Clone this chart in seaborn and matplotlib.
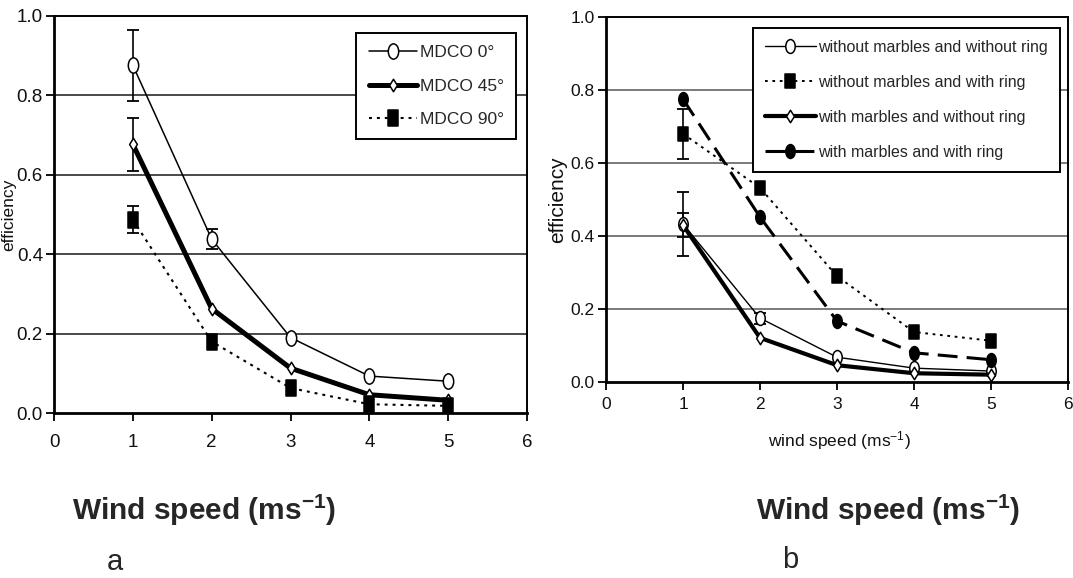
import numpy as np
import matplotlib
matplotlib.use("Agg")
import matplotlib.pyplot as plt
import seaborn as sns
from matplotlib.path import Path
from matplotlib.transforms import Affine2D
from matplotlib import font_manager as fm

# ---------------- data ----------------
wind = [1, 2, 3, 4, 5]

# panel a
a_labels = ["MDCO 0°", "MDCO 45°", "MDCO 90°"]
a_mdco0 = [0.876, 0.438, 0.190, 0.093, 0.080]
a_mdco45 = [0.677, 0.263, 0.113, 0.046, 0.032]
a_mdco90 = [0.487, 0.180, 0.063, 0.022, 0.018]
a_err0 = [0.089, 0.025, 0.0, 0.0, 0.0]
a_err45 = [0.067, 0.0, 0.0, 0.0, 0.0]
a_err90 = [0.034, 0.0, 0.0, 0.0, 0.0]

# panel b
b_labels = ["without marbles and without ring", "without marbles and with ring",
            "with marbles and without ring", "with marbles and with ring"]
b_wowo = [0.433, 0.175, 0.068, 0.038, 0.030]
b_wowr = [0.680, 0.532, 0.290, 0.137, 0.113]
b_wmwo = [0.430, 0.121, 0.046, 0.024, 0.020]
b_wmwr = [0.775, 0.452, 0.167, 0.080, 0.061]
b_err_wowo = [0.088, 0.015, 0.0, 0.0, 0.0]
b_err_wowr = [0.068, 0.0, 0.0, 0.0, 0.0]
b_err_wmwo = [0.034, 0.0, 0.0, 0.0, 0.0]
b_err_wmwr = [0.0, 0.0, 0.0, 0.0, 0.0]

x_ticks = [0, 1, 2, 3, 4, 5, 6]
y_ticks = [0.0, 0.2, 0.4, 0.6, 0.8, 1.0]

# ---------------- style ----------------
sns.set_style("white")
names = {f.name for f in fm.fontManager.ttflist}
NARROW = "Liberation Sans Narrow" if "Liberation Sans Narrow" in names else "Liberation Sans"
plt.rcParams["font.family"] = [NARROW, "DejaVu Sans"]
plt.rcParams["mathtext.fontset"] = "custom"
plt.rcParams["mathtext.rm"] = NARROW
plt.rcParams["mathtext.bf"] = "Liberation Sans:bold"
plt.rcParams["mathtext.it"] = NARROW

# stretched marker shapes (the source image is vertically stretched)
ellipse = Path.unit_circle().transformed(Affine2D().scale(0.68, 1.0))
rect = Path.unit_rectangle().transformed(Affine2D().translate(-0.5, -0.5).scale(0.68, 1.0))
diam = Path([(0, 1), (0.62, 0), (0, -1), (-0.62, 0), (0, 1)],
            [Path.MOVETO, Path.LINETO, Path.LINETO, Path.LINETO, Path.CLOSEPOLY])

W, H = 1073, 578
fig = plt.figure(figsize=(W / 100, H / 100), dpi=100)
axA = fig.add_axes([54 / W, 1 - 413 / H, 473 / W, 397 / H])
axB = fig.add_axes([606 / W, 1 - 382 / H, 462 / W, 365 / H])


def draw(ax, y, err, label, lw, ls, marker, ms, face):
    sns.lineplot(x=wind, y=y, ax=ax, color="black", lw=lw, linestyle=ls,
                 marker=marker, markersize=ms, markerfacecolor=face,
                 markeredgecolor="black", markeredgewidth=1.1, label=label,
                 zorder=4)
    e = np.array(err)
    m = e > 0
    if m.any():
        ax.errorbar(np.array(wind)[m], np.array(y)[m], yerr=e[m], fmt="none",
                    ecolor="black", elinewidth=1.2, capsize=4, capthick=1.3,
                    zorder=3)


dotted = (0, (1.4, 2.4))
dashed = (0, (6.5, 3.0))

# panel a
draw(axA, a_mdco0, a_err0, a_labels[0], 1.1, "-", ellipse, 11, "white")
draw(axA, a_mdco45, a_err45, a_labels[1], 3.6, "-", diam, 9, "white")
draw(axA, a_mdco90, a_err90, a_labels[2], 1.5, dotted, rect, 11, "black")

# panel b
draw(axB, b_wowo, b_err_wowo, b_labels[0], 1.0, "-", ellipse, 10, "white")
draw(axB, b_wowr, b_err_wowr, b_labels[1], 1.4, dotted, rect, 10, "black")
draw(axB, b_wmwo, b_err_wmwo, b_labels[2], 3.0, "-", diam, 9, "white")
draw(axB, b_wmwr, b_err_wmwr, b_labels[3], 2.2, dashed, ellipse, 10, "black")

for ax, tsize, grid_c, xpad in ((axA, 13.5, "#3a3a3a", 9), (axB, 12.5, "#707070", 5)):
    ax.set_xlim(0, 6)
    ax.set_ylim(0, 1)
    ax.set_xticks(x_ticks)
    ax.set_xticklabels([str(t) for t in x_ticks])
    ax.set_yticks(y_ticks)
    ax.set_yticklabels([f"{t:.1f}" for t in y_ticks])
    ax.tick_params(axis="both", direction="out", length=6, width=1.3,
                   color="black", labelsize=tsize, labelcolor="#111111")
    ax.tick_params(axis="x", pad=xpad, bottom=True)
    ax.tick_params(axis="y", pad=2, left=True)
    for t in y_ticks[1:-1]:
        ax.axhline(t, color=grid_c, lw=1.3, zorder=1)
    for s in ax.spines.values():
        s.set_visible(True)
        s.set_color("black")
        s.set_linewidth(1.4)
    ax.spines["left"].set_linewidth(2.0)
    ax.spines["bottom"].set_linewidth(2.0)
    ax.set_xlabel("")
    ax.set_ylabel("")

legA = axA.legend(loc="upper right", bbox_to_anchor=(516 / W, 1 - 33 / H),
                  bbox_transform=fig.transFigure, frameon=True, fancybox=False,
                  edgecolor="black", framealpha=1, borderpad=0.7,
                  handlelength=2.8, handletextpad=0.15, labelspacing=1.05,
                  borderaxespad=0, numpoints=1, prop={"family": NARROW, "size": 12.5})
legA.get_frame().set_linewidth(1.4)

legB = axB.legend(loc="upper right", bbox_to_anchor=(1060 / W, 1 - 28 / H),
                  bbox_transform=fig.transFigure, frameon=True, fancybox=False,
                  edgecolor="black", framealpha=1, borderpad=0.75,
                  handlelength=3.2, handletextpad=0.15, labelspacing=1.25,
                  borderaxespad=0, numpoints=1, prop={"family": NARROW, "size": 11.5})
legB.get_frame().set_linewidth(1.4)

# axis labels
fig.text(1 / W, 1 - 215 / H, "efficiency", rotation=90, ha="left", va="center",
         fontsize=12.5, color="#111111")
fig.text(558 / W, 1 - 200 / H, "efficiency", rotation=90, ha="center", va="center",
         fontsize=15, color="#111111")
fig.text(839 / W, 1 - 441 / H, r"wind speed (ms$^{\mathrm{-1}}$)", ha="center",
         va="center", fontsize=12.5, color="#111111")

# bottom captions
bold_lbl = r"Wind speed (ms$^{\mathbf{-1}}$)"
fig.text(72 / W, 1 - 510 / H, bold_lbl, ha="left", va="center", fontsize=21.5,
         fontweight="bold", family=["Liberation Sans", "DejaVu Sans"])
fig.text(756 / W, 1 - 510 / H, bold_lbl, ha="left", va="center", fontsize=21.5,
         fontweight="bold", family=["Liberation Sans", "DejaVu Sans"])
fig.text(115 / W, 1 - 562 / H, "a", ha="center", va="center", fontsize=21,
         family=["Liberation Sans", "DejaVu Sans"])
fig.text(790 / W, 1 - 560 / H, "b", ha="center", va="center", fontsize=21,
         family=["Liberation Sans", "DejaVu Sans"])

fig.savefig("out.png", dpi=100, facecolor="white")
